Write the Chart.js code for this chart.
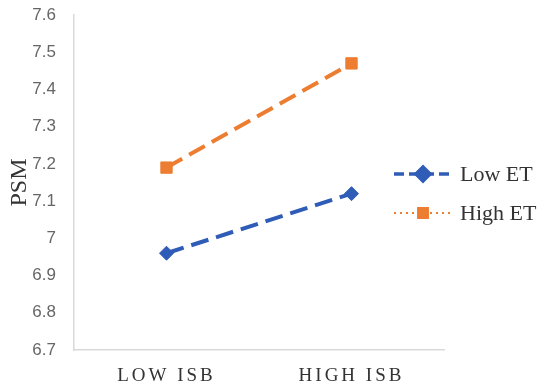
<!DOCTYPE html>
<html>
<head>
<meta charset="utf-8">
<script src="https://cdn.jsdelivr.net/npm/chart.js@4/dist/chart.umd.min.js"></script>
<style>
  body { margin: 0; background: #fff; }
  canvas { display: block; }
</style>
</head>
<body>
<canvas id="psm-chart" width="546" height="389"></canvas>
<script>
const categories = ["LOW ISB", "HIGH ISB"];
const seriesNames = ["Low ET", "High ET"];
const lowEtValues = [6.96, 7.12];
const highEtValues = [7.19, 7.47];
const yTicks = [6.7, 6.8, 6.9, 7, 7.1, 7.2, 7.3, 7.4, 7.5, 7.6];

const BLUE = "#2f5cb6";
const ORANGE = "#ed7d31";

// legend drawn by hand: dashed/dotted line with marker in the middle
const sideLegend = {
  id: "sideLegend",
  afterDatasetsDraw(chart) {
    chart.ctx.letterSpacing = "3px"; // for x labels (drawn after datasets, z=1)
  },
  afterDraw(chart) {
    const ctx = chart.ctx;
    ctx.save();
    ctx.letterSpacing = "0px";
    const rows = [
      { y: 174, color: BLUE, dash: [10, 5], width: 3.5, style: "rectRot" },
      { y: 213, color: ORANGE, dash: [2, 4], width: 2, style: "rect" },
    ];
    rows.forEach((r, i) => {
      ctx.strokeStyle = r.color;
      ctx.lineWidth = r.width;
      ctx.setLineDash(r.dash);
      ctx.beginPath();
      ctx.moveTo(394, r.y);
      ctx.lineTo(450, r.y);
      ctx.stroke();
      ctx.setLineDash([]);
      Chart.helpers.drawPoint(ctx, { pointStyle: r.style, radius: 7, borderWidth: 1 }, 423, r.y);
      ctx.fillStyle = r.color;
      ctx.strokeStyle = r.color;
      ctx.fill();
      ctx.fillStyle = "#333";
      ctx.font = "22px 'Liberation Serif'";
      ctx.textBaseline = "middle";
      ctx.fillText(seriesNames[i], 460, r.y + 1);
    });
    ctx.restore();
  },
};

new Chart(document.getElementById("psm-chart"), {
  type: "line",
  data: {
    labels: categories,
    datasets: [
      {
        label: seriesNames[0],
        data: lowEtValues,
        borderColor: BLUE,
        backgroundColor: BLUE,
        borderWidth: 4,
        borderDash: [18, 8],
        pointStyle: "rectRot",
        pointRadius: 7,
        pointBorderWidth: 1,
      },
      {
        label: seriesNames[1],
        data: highEtValues,
        borderColor: ORANGE,
        backgroundColor: ORANGE,
        borderWidth: 4,
        borderDash: [18, 8],
        pointStyle: "rect",
        pointRadius: 8,
        pointBorderWidth: 1,
      },
    ],
  },
  options: {
    responsive: false,
    animation: false,
    layout: { padding: { left: 0, top: 15, right: 102, bottom: 0 } },
    plugins: { legend: { display: false }, tooltip: { enabled: false } },
    scales: {
      x: {
        offset: true,
        grid: { display: false },
        border: { color: "#d9d9d9", width: 1.5 },
        ticks: {
          z: 1,
          color: "#333",
          padding: 7,
          font: { family: "'Liberation Serif'", size: 19 },
        },
        afterFit(scale) { scale.height = 39; },
      },
      y: {
        min: 6.7,
        max: 7.6,
        afterBuildTicks(scale) { scale.ticks = yTicks.map((v) => ({ value: v })); },
        grid: { display: false },
        border: { color: "#d9d9d9", width: 1.5 },
        ticks: {
          color: "#666",
          padding: 10,
          font: { family: "'Liberation Sans'", size: 17 },
          callback: (v) => String(Math.round(v * 10) / 10),
        },
        title: {
          display: true,
          text: "PSM",
          color: "#333",
          padding: { top: 5, bottom: 0 },
          font: { family: "'Liberation Serif'", size: 24 },
        },
        afterFit(scale) {
          scale.width = 74;
          scale.paddingTop = 0;
          scale.paddingBottom = 0;
        },
      },
    },
  },
  plugins: [sideLegend],
});
</script>
</body>
</html>
